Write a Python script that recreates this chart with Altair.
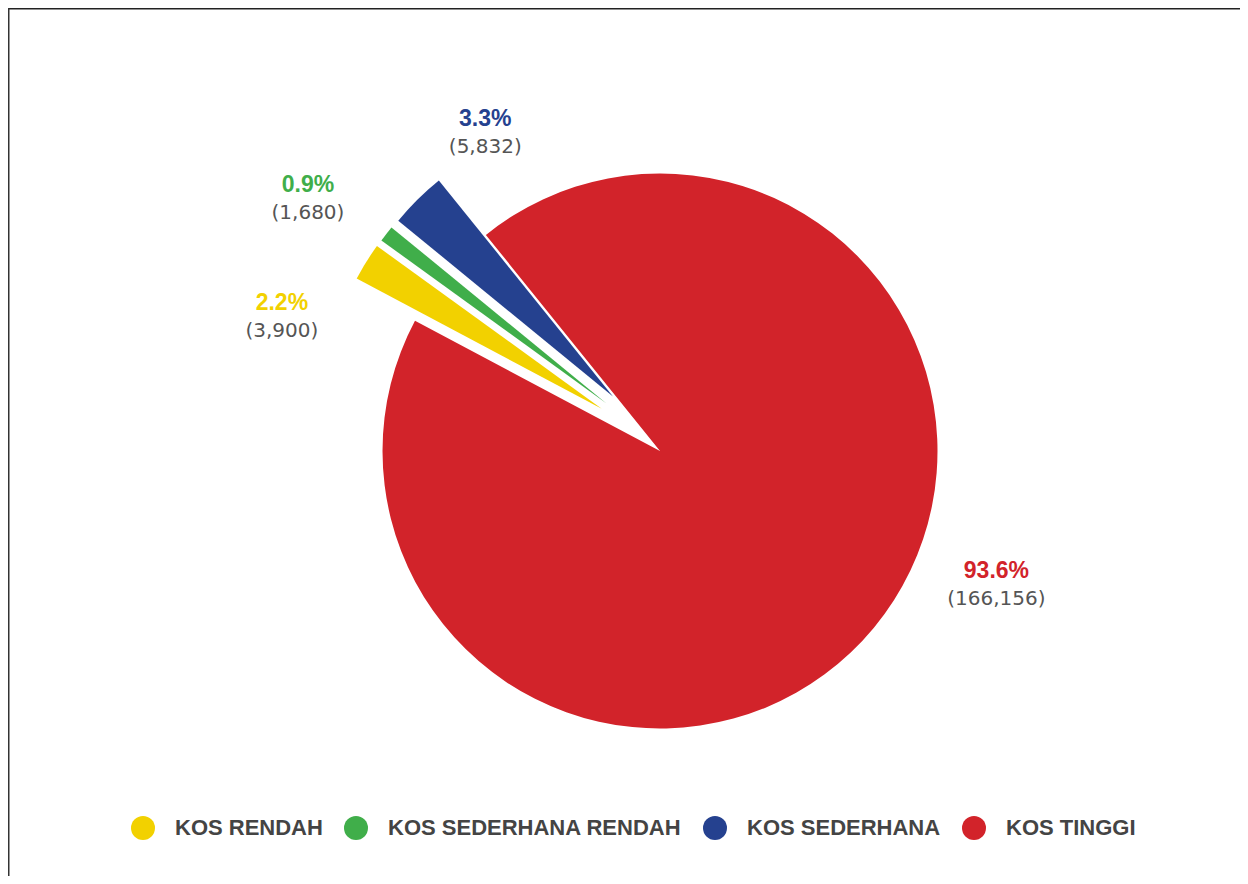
import math
import altair as alt
import pandas as pd

# ---- data ----
CATEGORIES = ["KOS RENDAH", "KOS SEDERHANA RENDAH", "KOS SEDERHANA", "KOS TINGGI"]
VALUES = [3900, 1680, 5832, 166156]
COLORS = ["#F2D100", "#40AE4A", "#25418F", "#D2232A"]

df = pd.DataFrame({"category": CATEGORIES, "value": VALUES, "idx": list(range(len(CATEGORIES)))})

# ---- layout / style constants ----
W, H = 1232, 868
CX, CY = 652, 443
R = 277.5
START = math.radians(-62.0)
END = START + 2 * math.pi
EXPLODE = 72
EXPLODE_SHIFT = math.radians(4)
# label placement: (angle shift from slice middle in degrees, radius)
LABEL_LAYOUT = {
    "KOS RENDAH": (-12.5, 401),
    "KOS SEDERHANA RENDAH": (-2.0, 433),
    "KOS SEDERHANA": (16.0, 363),
    "KOS TINGGI": (-17.9, 362),
}
shift_expr = " : ".join(
    f"datum.category == '{k}' ? {math.radians(v[0])}" for k, v in LABEL_LAYOUT.items()
) + " : 0"
rad_expr = " : ".join(
    f"datum.category == '{k}' ? {v[1]}" for k, v in LABEL_LAYOUT.items()
) + " : 0"

color_scale = alt.Scale(domain=CATEGORIES, range=COLORS)

base = (
    alt.Chart(df)
    .transform_stack(stack="value", as_=["v0", "v1"], groupby=[],
                     sort=[alt.SortField("idx", order="ascending")])
    .transform_joinaggregate(total="sum(value)")
    .transform_calculate(f0="datum.v0/datum.total", f1="datum.v1/datum.total")
    .transform_calculate(mid=f"{START} + PI*(datum.f0+datum.f1)")
    .transform_calculate(ex=f"datum.category == 'KOS TINGGI' ? 0 : {EXPLODE}")
    .transform_calculate(
        px=f"{CX} + datum.ex*sin(datum.mid + {EXPLODE_SHIFT})",
        py=f"{CY} - datum.ex*cos(datum.mid + {EXPLODE_SHIFT})",
        la=f"datum.mid + ({shift_expr})",
        lr=rad_expr,
        pct="format(datum.value/datum.total, '.1%')",
        cnt="'(' + format(datum.value, ',') + ')'",
    )
    .transform_calculate(
        lx=f"{CX} + datum.lr*sin(datum.la)",
        ly=f"{CY} - datum.lr*cos(datum.la)",
    )
)

arcs = base.mark_arc(radius=R).encode(
    theta=alt.Theta("f0:Q", scale=alt.Scale(domain=[0, 1], range=[START, END])),
    theta2="f1:Q",
    x=alt.X("px:Q", scale=None, axis=None),
    y=alt.Y("py:Q", scale=None, axis=None),
    color=alt.Color(
        "category:N",
        scale=color_scale,
        legend=alt.Legend(
            title=None,
            orient="none",
            direction="horizontal",
            columns=4,
            legendX=123,
            legendY=808,
            symbolType="circle",
            symbolSize=576,
            symbolStrokeWidth=0,
            symbolOpacity=1,
            labelFont="Liberation Sans",
            labelFontSize=22,
            labelFontWeight="bold",
            labelColor="#444444",
            labelOffset=20,
            columnPadding=21,
            padding=0,
            labelLimit=0,
        ),
    ),
)

pct = base.mark_text(
    font="Liberation Sans", fontSize=23, fontWeight="bold", align="center", baseline="middle", dy=-14
).encode(
    x=alt.X("lx:Q", scale=None, axis=None),
    y=alt.Y("ly:Q", scale=None, axis=None),
    text="pct:N",
    color=alt.Color("category:N", scale=color_scale, legend=None),
)

cnt = base.mark_text(
    font="DejaVu Sans", fontSize=20, align="center", baseline="middle", dy=14, color="#555555"
).encode(
    x=alt.X("lx:Q", scale=None, axis=None),
    y=alt.Y("ly:Q", scale=None, axis=None),
    text="cnt:N",
)

frame_df = pd.DataFrame({"k": [0]})
top_rule = alt.Chart(frame_df).mark_rule(color="#222222", strokeWidth=1.5).encode(
    x=alt.value(0), x2=alt.value(W), y=alt.value(0.75)
)
left_rule = alt.Chart(frame_df).mark_rule(color="#333333", strokeWidth=1.5).encode(
    x=alt.value(0.75), y=alt.value(0), y2=alt.value(H)
)

chart = (
    alt.layer(arcs, pct, cnt, top_rule, left_rule)
    .properties(width=W, height=H, autosize=alt.AutoSizeParams(type="none"), padding=0)
    .configure_view(stroke=None)
    .configure(background="white")
)

chart.save("out.html", embed_options={"renderer": "svg", "actions": False})
